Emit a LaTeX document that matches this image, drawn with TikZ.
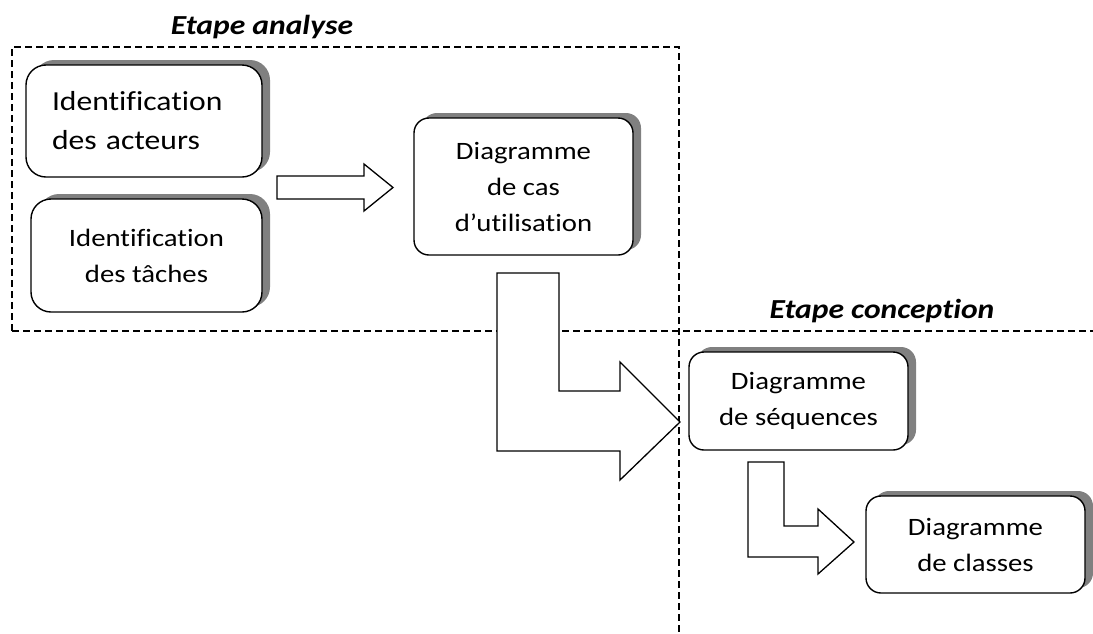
\documentclass[tikz,border=0pt]{standalone}
\usepackage{fontspec}
\setmainfont{Carlito}[FakeStretch=1.15, Ligatures=NoCommon, RawFeature={-liga;-clig}]
\usetikzlibrary{shadows}
\definecolor{shadowgray}{HTML}{808080}
\tikzset{
  box/.style={draw=black, line width=1.4pt, rounded corners=15pt, fill=white,
    align=center, inner sep=0pt,
    font=\fontsize{25}{36}\selectfont,
    general shadow={fill=shadowgray, draw=none, shadow xshift=8pt, shadow yshift=5pt}},
  zone/.style={line width=1.1pt, dash pattern=on 7pt off 4pt},
  blockarrow/.style={draw=black, line width=1.3pt, fill=white, line join=miter},
  title/.style={font=\fontsize{27.5}{32}\selectfont\bfseries\itshape, inner sep=0pt}
}
\begin{document}
\begin{tikzpicture}[x=1pt,y=-1pt]
\useasboundingbox (0,0) rectangle (1093,633);
% zones
\draw[zone] (12,331) -- (12,47) -- (679,47) -- (679,633);
\draw[zone] (12,331) -- (1093,331);
\node[title] (t1) at (262,27) {Etape analyse};
\node[title] (t2) at (882,311) {Etape conception};
% boxes
\node[box, minimum width=236pt, minimum height=112pt, text width=184pt, align=left,
  font=\fontsize{27.5}{39}\selectfont, rounded corners=20pt] (acteurs) at (144,121) {Identification\\des acteurs};
\node[box, minimum width=231pt, minimum height=113pt, rounded corners=20pt] (taches) at (146.5,255.5) {Identification\\des tâches};
\node[box, minimum width=219pt, minimum height=137pt] (cas) at (523.5,186.5) {Diagramme\\de cas\\d’utilisation};
\node[box, minimum width=219pt, minimum height=98pt] (seq) at (798.5,401) {Diagramme\\de séquences};
\node[box, minimum width=219pt, minimum height=97pt] (classes) at (975.5,544.5) {Diagramme\\de classes};
% block arrows
\draw[blockarrow] (277,176) -- (364,176) -- (364,164) -- (393,187.5) -- (364,211) -- (364,199) -- (277,199) -- cycle;
\draw[blockarrow] (497,273) -- (559,273) -- (559,391) -- (620,391) -- (620,362) -- (680,422) -- (620,480) -- (620,451) -- (497,451) -- cycle;
\draw[blockarrow] (748,462) -- (784,462) -- (784,526) -- (818,526) -- (818,509) -- (854,542) -- (818,574) -- (818,557) -- (748,557) -- cycle;
\end{tikzpicture}
\end{document}
